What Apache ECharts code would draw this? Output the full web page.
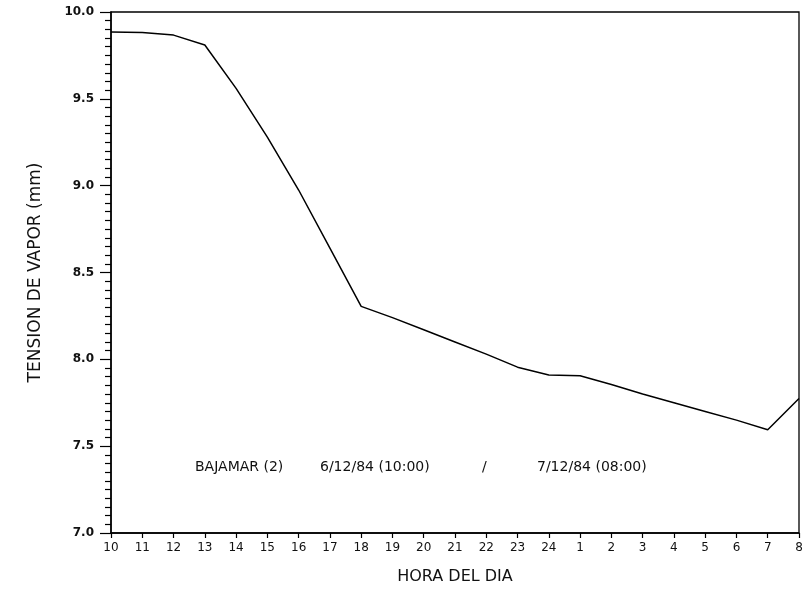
<!DOCTYPE html>
<html>
<head>
<meta charset="utf-8">
<script src="https://cdn.jsdelivr.net/npm/echarts@6/dist/echarts.min.js"></script>
<style>
html,body{margin:0;padding:0;background:#fff;}
#chart{width:811px;height:603px;}
</style>
</head>
<body>
<div id="chart"></div>
<script>
// Hour of the day (6/12/84 10:00 -> 7/12/84 08:00)
const hours = ['10','11','12','13','14','15','16','17','18','19','20','21','22','23','24','1','2','3','4','5','6','7','8'];
// Vapour pressure (mm)
const vapor = [9.885, 9.882, 9.867, 9.81, 9.56, 9.28, 8.975, 8.64, 8.305, 8.24, 8.17, 8.10, 8.03, 7.955, 7.91, 7.905, 7.855, 7.80, 7.75, 7.70, 7.65, 7.595, 7.775];
const yTicks = { min: 7.0, max: 10.0, step: 0.5 };
const annotation = ['BAJAMAR (2)', '6/12/84 (10:00)', '/', '7/12/84 (08:00)'];

const FONT = '"DejaVu Sans", "Liberation Sans", sans-serif';
const chart = echarts.init(document.getElementById('chart'), null, {renderer: 'canvas'});
chart.setOption({
  backgroundColor: '#ffffff',
  animation: false,
  grid: { left: 111, right: 12, top: 12, bottom: 70, show: true, borderColor: '#000', borderWidth: 1.3, backgroundColor: 'transparent' },
  xAxis: {
    type: 'category',
    data: hours,
    boundaryGap: false,
    name: 'HORA DEL DIA',
    nameLocation: 'middle',
    nameGap: 36,
    nameTextStyle: { fontFamily: FONT, fontSize: 16, color: '#111' },
    axisLine: { lineStyle: { color: '#000', width: 1.5 } },
    axisTick: { show: true, inside: false, length: 5, lineStyle: { color: '#000', width: 1.2 } },
    axisLabel: { fontFamily: FONT, fontSize: 12, color: '#111', margin: 9, interval: 0 },
    splitLine: { show: false }
  },
  yAxis: {
    type: 'value',
    min: yTicks.min,
    max: yTicks.max,
    interval: yTicks.step,
    name: 'TENSION DE VAPOR (mm)',
    nameLocation: 'middle',
    nameGap: 67,
    nameTextStyle: { fontFamily: FONT, fontSize: 17, color: '#111' },
    axisLine: { show: true, lineStyle: { color: '#000', width: 1.5 } },
    axisTick: { show: true, inside: false, length: 11, lineStyle: { color: '#000', width: 1.2 } },
    minorTick: { show: true, splitNumber: 10, length: 6, lineStyle: { color: '#000', width: 1.2 } },
    axisLabel: { fontFamily: FONT, fontSize: 12, fontWeight: 'bold', color: '#111', margin: 17, formatter: v => v.toFixed(1) },
    splitLine: { show: false }
  },
  series: [{
    type: 'line',
    data: vapor,
    symbol: 'none',
    lineStyle: { color: '#000', width: 1.5 }
  }],
  graphic: [
    { type: 'text', left: 195, top: 460, style: { text: annotation[0], font: '14px ' + FONT, fill: '#111' } },
    { type: 'text', left: 320, top: 460, style: { text: annotation[1], font: '14px ' + FONT, fill: '#111' } },
    { type: 'text', left: 482, top: 460, style: { text: annotation[2], font: '14px ' + FONT, fill: '#111' } },
    { type: 'text', left: 537, top: 460, style: { text: annotation[3], font: '14px ' + FONT, fill: '#111' } }
  ]
});
</script>
</body>
</html>
